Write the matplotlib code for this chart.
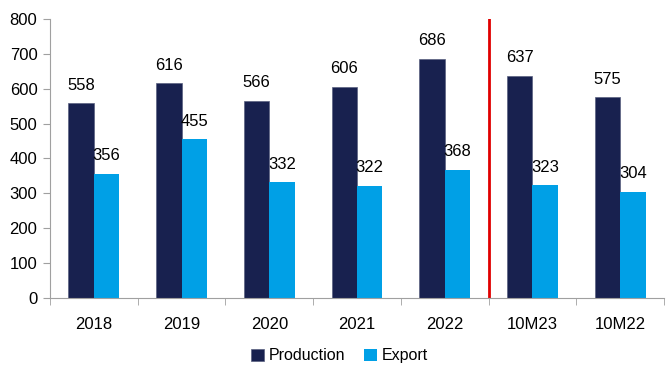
import matplotlib
matplotlib.use("Agg")
import matplotlib.pyplot as plt
import numpy as np

categories = ["2018", "2019", "2020", "2021", "2022", "10M23", "10M22"]
production = [558, 616, 566, 606, 686, 637, 575]
export = [356, 455, 332, 322, 368, 323, 304]

plt.rcParams["font.family"] = ["Liberation Sans", "DejaVu Sans"]

fig = plt.figure(figsize=(6.66, 3.65), dpi=100)
ax = fig.add_axes([0.075, 0.184, 0.922, 0.764])

x = np.arange(len(categories))
w = 0.29
navy = "#18214f"
blue = "#00a0e6"

b1 = ax.bar(x - w / 2, production, w, color=navy, edgecolor="#5a6080", linewidth=0.5, label="Production")
b2 = ax.bar(x + w / 2, export, w, color=blue, label="Export")

for xi, v in zip(x, production):
    ax.text(xi - w / 2, v + 30, str(v), ha="center", va="bottom", fontsize=12)
for xi, v in zip(x, export):
    ax.text(xi + w / 2, v + 30, str(v), ha="center", va="bottom", fontsize=12)

# separator between annual and 10M data
ax.axvline(4.5, color="#e00000", linewidth=2)

ax.set_xlim(-0.5, len(categories) - 0.5)
ax.set_ylim(0, 800)
ax.set_yticks(range(0, 801, 100))
ax.set_xticks(x)
ax.set_xticklabels(categories, fontsize=12)
ax.set_xticks(np.arange(-0.5, len(categories), 1), minor=True)
ax.tick_params(axis="x", which="major", length=0, pad=14)
ax.tick_params(axis="x", which="minor", length=5, color="#a0a0a0", direction="out")
ax.tick_params(axis="y", labelsize=12, length=5, color="#a0a0a0", pad=4)

for s in ["top", "right"]:
    ax.spines[s].set_visible(False)
for s in ["left", "bottom"]:
    ax.spines[s].set_color("#a0a0a0")

fig.legend(handles=[b1, b2], loc="lower center", bbox_to_anchor=(0.51, -0.035), ncol=2,
           frameon=False, fontsize=11.5, handlelength=0.8, handleheight=0.8,
           handletextpad=0.3, columnspacing=1.2)

fig.savefig("out.png", dpi=100)
